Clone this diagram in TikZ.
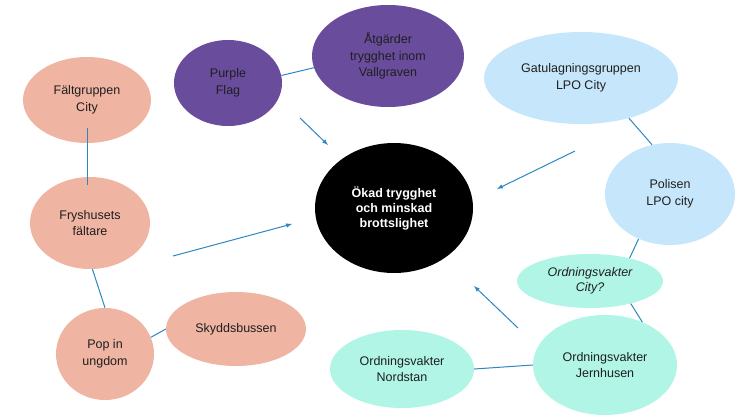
\documentclass[tikz,border=0pt]{standalone}
\usepackage{fontspec}
\setmainfont{Liberation Sans}
\usetikzlibrary{shapes.geometric}
\definecolor{salmon}{RGB}{239,180,162}
\definecolor{violet}{RGB}{106,76,156}
\definecolor{skyblue}{RGB}{198,230,251}
\definecolor{mint}{RGB}{176,245,230}
\definecolor{linkblue}{RGB}{46,134,193}
\begin{document}
\begin{tikzpicture}
    [
    x=1pt,y=-1pt,
    bubble/.style={ellipse,inner sep=0pt,align=center,text=black!88,font=\fontsize{12.5}{16.5}\selectfont},
    link/.style={draw=linkblue,line width=1pt},
    arrow/.style={link,-latex},
    ]
    \useasboundingbox (0,0) rectangle (744,415);
    \node (faltgr) at (87,100) [bubble,fill=salmon,minimum width=128pt,minimum height=86pt] {Fältgruppen\\City};
    \node (fryshus) at (90,223) [bubble,fill=salmon,minimum width=120pt,minimum height=92pt] {Fryshusets\\fältare};
    \node (pop) at (105,354) [bubble,fill=salmon,minimum width=98pt,minimum height=92pt] {Pop in\\ungdom};
    \node (skydd) at (236,329) [bubble,fill=salmon,minimum width=140pt,minimum height=74pt] {Skyddsbussen};
    \node (purple) at (228,83) [bubble,fill=violet,minimum width=108pt,minimum height=86pt] {Purple\\Flag};
    \node (atgard) at (388,56) [bubble,fill=violet,minimum width=152pt,minimum height=102pt] {Åtgärder\\trygghet inom\\Vallgraven};
    \node (okad) at (394,208) [bubble,fill=black,text=white,font=\fontsize{12.5}{15}\selectfont\bfseries,minimum width=158pt,minimum height=130pt] {Ökad trygghet\\och minskad\\brottslighet};
    \node (gatul) at (581,78) [bubble,fill=skyblue,minimum width=194pt,minimum height=92pt] {Gatulagningsgruppen\\LPO City};
    \node (polisen) at (670,194) [bubble,fill=skyblue,minimum width=130pt,minimum height=102pt] {Polisen\\LPO city};
    \node (ovcity) at (590,281) [bubble,fill=mint,minimum width=146pt,minimum height=54pt,font=\fontsize{12.5}{15}\selectfont\itshape] {Ordningsvakter\\City?};
    \node (jernhus) at (605,365) [bubble,fill=mint,minimum width=144pt,minimum height=100pt] {Ordningsvakter\\Jernhusen};
    \node (nordstan) at (402,369) [bubble,fill=mint,minimum width=144pt,minimum height=78pt] {Ordningsvakter\\Nordstan};
    \coordinate (pf-tail) at (300,118);
    \coordinate (pf-head) at (328,145);
    \coordinate (gl-tail) at (575,151);
    \coordinate (gl-head) at (497,189);
    \coordinate (fh-tail) at (173,256);
    \coordinate (fh-head) at (292,224);
    \coordinate (ov-tail) at (518,328);
    \coordinate (ov-head) at (474,286);
    \draw [link,shorten <=-15pt,shorten >=-8pt] (faltgr.south) to (faltgr.south |- fryshus.north);
    \draw [link] (fryshus.-87) to (pop.north);
    \draw [link] (pop.20) to (skydd.west);
    \draw [link] (purple.8) to (atgard.189);
    \draw [link] (gatul.-40) to (polisen.110);
    \draw [link] (polisen.235) to (ovcity.30);
    \draw [link] (ovcity.-29) to (jernhus.49);
    \draw [link] (nordstan.east) to (jernhus.west);
    \draw [arrow] (pf-tail) to (pf-head);
    \draw [arrow] (gl-tail) to (gl-head);
    \draw [arrow] (fh-tail) to (fh-head);
    \draw [arrow] (ov-tail) to (ov-head);
  \end{tikzpicture}
\end{document}
